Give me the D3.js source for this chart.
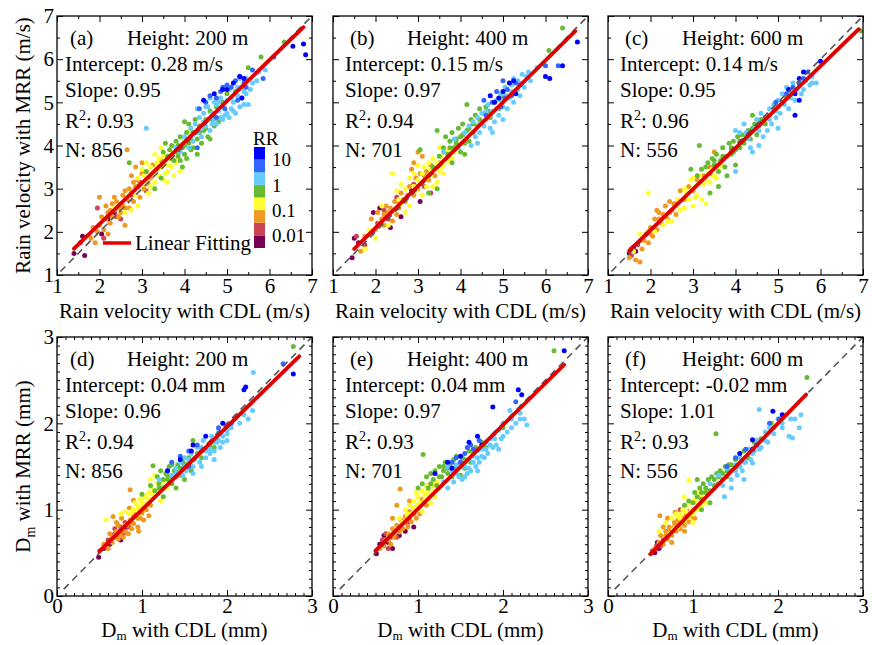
<!DOCTYPE html>
<html><head><meta charset="utf-8">
<script src="https://cdn.jsdelivr.net/npm/d3@7"></script>
<style>
body{margin:0;background:#fff}
svg{display:block}
text{font-family:"Liberation Serif","Times New Roman",serif;fill:#000}
</style>
</head><body>
<svg id="chart" width="872" height="645"></svg>
<script>
// ---------------- DATA ----------------
const panelLabels = ['(a)','(b)','(c)','(d)','(e)','(f)'];
const heights = [200,400,600,200,400,600];
const intercepts = [0.28,0.15,0.14,0.04,0.04,-0.02];
const slopes = [0.95,0.97,0.95,0.96,0.97,1.01];
const r2s = [0.93,0.94,0.96,0.94,0.93,0.93];
const counts = [856,701,556,856,701,556];
const fitRanges = [[1.4,6.8],[1.5,6.7],[1.5,6.9],[0.5,2.85],[0.5,2.72],[0.5,2.33]];
const units = ['m/s','m/s','m/s','mm','mm','mm'];

const velTicks = [1,2,3,4,5,6,7];
const velMinor = [1.5,2.5,3.5,4.5,5.5,6.5];
const dmTicks = [0,1,2,3];
const dmMinor = [0.1,0.2,0.3,0.4,0.5,0.6,0.7,0.8,0.9,1.1,1.2,1.3,1.4,1.5,1.6,1.7,1.8,1.9,2.1,2.2,2.3,2.4,2.5,2.6,2.7,2.8,2.9];

// colour bar (RR, mm/h)
const rrEdges = [0.00316,0.01,0.0316,0.1,0.316,1,3.16,10,31.6];
const rrColors = ['#770055','#cc4455','#ee9922','#ffff33','#66bb33','#66ccff','#3366ff','#0000ff'];
const rrTicks = [0.01,0.1,1,10];
const rrTickLabels = ['0.01','0.1','1','10'];

// points: [CDL, MRR, RR]
const ptsA = [
[1.4,1.5,0.005],[1.65,1.45,0.005],[1.6,1.9,0.005],[2.05,1.95,0.005],[2.2,2.3,0.005],[2.35,2.45,0.005],
[1.55,1.75,0.02],[1.95,2.55,0.02],[2.1,1.85,0.02],[2.4,2.35,0.02],[2.5,2.3,0.02],[2.75,2.85,0.02],[2.9,3.05,0.02],[2.95,3.15,0.02],[3.1,2.95,0.02],
[1.8,1.85,0.05],[1.9,1.75,0.05],[2.0,2.15,0.05],[2.1,2.05,0.05],[2.15,2.6,0.05],[2.2,2.45,0.05],[2.25,2.2,0.05],[2.3,2.65,0.05],[2.3,2.35,0.05],[2.4,2.7,0.05],[2.45,2.55,0.05],[2.5,2.45,0.05],[2.55,2.6,0.05],[2.55,2.85,0.05],[2.6,2.15,0.05],[2.65,3.9,0.05],[2.65,2.75,0.05],[2.7,2.55,0.05],[2.7,3.0,0.05],[2.75,3.3,0.05],[2.8,2.7,0.05],[2.85,3.05,0.05],[2.9,3.2,0.05],[2.95,2.8,0.05],[3.0,3.35,0.05],[3.05,3.0,0.05],[3.1,3.4,0.05],[3.2,3.25,0.05],[3.25,3.55,0.05],[3.35,3.45,0.05],[3.45,3.65,0.05],[1.95,2.0,0.05],[2.05,2.35,0.05],[2.35,2.5,0.05],[2.6,2.95,0.05],[2.0,2.8,0.05],[2.2,1.95,0.05],[3.0,3.6,0.05],[2.85,3.5,0.05],
[2.15,2.3,0.05],[2.35,2.8,0.05],[2.45,2.35,0.05],[2.5,2.65,0.05],[2.6,2.55,0.05],[2.75,2.9,0.05],[2.8,3.15,0.05],[3.15,3.1,0.05],[1.85,2.1,0.05],[2.25,2.5,0.05],
[2.35,2.55,0.2],[2.6,2.45,0.2],[2.75,2.5,0.2],[2.85,2.85,0.2],[2.9,3.25,0.2],[3.0,3.1,0.2],[3.1,3.2,0.2],[3.15,2.9,0.2],[3.2,3.05,0.2],[3.25,3.35,0.2],[3.3,3.15,0.2],[3.35,3.6,0.2],[3.4,3.3,0.2],[3.45,3.5,0.2],[3.5,3.2,0.2],[3.55,3.55,0.2],[3.6,3.4,0.2],[3.65,3.7,0.2],[3.7,3.5,0.2],[3.75,3.85,0.2],[3.8,3.6,0.2],[3.85,3.95,0.2],[3.9,3.4,0.2],[4.0,4.1,0.2],[3.3,3.8,0.2],[3.5,3.75,0.2],[3.45,3.95,0.2],[3.0,3.45,0.2],[2.9,2.6,0.2],[3.1,3.6,0.2],[3.6,3.15,0.2],[3.75,3.3,0.2],[4.1,4.35,0.2],
[3.2,3.5,0.2],[3.4,3.7,0.2],[3.55,3.35,0.2],[3.7,3.8,0.2],[3.85,3.7,0.2],[3.95,4.0,0.2],[3.05,3.3,0.2],[3.65,3.55,0.2],
[2.7,3.6,0.5],[3.1,3.4,0.5],[3.3,3.0,0.5],[3.5,3.85,0.5],[3.55,4.05,0.5],[3.6,3.75,0.5],[3.7,4.0,0.5],[3.75,3.65,0.5],[3.8,4.1,0.5],[3.85,3.75,0.5],[3.9,4.2,0.5],[3.95,3.5,0.5],[3.95,3.95,0.5],[4.0,3.8,0.5],[4.05,4.3,0.5],[4.1,4.05,0.5],[4.1,4.5,0.5],[4.15,3.9,0.5],[4.2,4.3,0.5],[4.25,4.6,0.5],[4.3,4.15,0.5],[4.35,4.45,0.5],[4.4,4.05,0.5],[4.45,4.35,0.5],[4.5,4.6,0.5],[4.55,4.2,0.5],[4.6,4.8,0.5],[4.7,4.45,0.5],[4.75,4.9,0.5],[4.8,4.55,0.5],[4.9,5.0,0.5],[5.0,5.2,0.5],[5.2,5.25,0.5],[5.5,5.8,0.5],[5.8,6.05,0.5],[6.35,6.4,0.5],[3.45,3.25,0.5],[4.0,4.55,0.5],[4.3,3.8,0.5],[3.9,3.65,0.5],[4.6,4.15,0.5],
[3.65,3.9,0.5],[3.85,4.0,0.5],[4.0,4.0,0.5],[4.15,4.2,0.5],[4.2,3.95,0.5],[4.35,4.3,0.5],[4.5,4.4,0.5],[4.65,4.6,0.5],[3.8,3.85,0.5],[4.05,3.7,0.5],
[3.1,4.4,2],[3.8,3.95,2],[3.9,3.85,2],[4.0,4.2,2],[4.1,3.95,2],[4.15,4.4,2],[4.2,4.1,2],[4.25,4.5,2],[4.3,4.3,2],[4.35,4.65,2],[4.4,4.4,2],[4.45,4.75,2],[4.5,4.45,2],[4.5,4.9,2],[4.55,4.6,2],[4.6,4.35,2],[4.65,4.75,2],[4.7,5.0,2],[4.7,4.6,2],[4.75,4.5,2],[4.8,4.8,2],[4.85,5.1,2],[4.85,4.65,2],[4.9,4.9,2],[4.95,4.7,2],[5.0,5.05,2],[5.0,4.75,2],[5.05,5.3,2],[5.1,4.85,2],[5.15,5.0,2],[5.2,4.75,2],[5.2,5.2,2],[5.25,5.35,2],[5.3,4.9,2],[5.35,5.1,2],[5.4,5.25,2],[5.45,5.55,2],[5.5,4.95,2],[5.55,5.3,2],[5.7,5.5,2],[5.75,5.7,2],[5.9,5.75,2],[4.3,4.85,2],[4.6,5.1,2],[4.95,5.35,2],[5.3,5.55,2],[4.4,4.2,2],[5.05,4.65,2],
[4.2,4.25,2],[4.45,4.55,2],[4.55,4.9,2],[4.65,4.5,2],[4.8,5.0,2],[4.9,4.6,2],[5.1,5.1,2],[5.15,4.8,2],[5.25,5.15,2],[5.4,4.95,2],[5.45,5.2,2],[5.6,5.45,2],[4.75,4.95,2],[5.35,5.35,2],
[4.35,4.85,5],[4.5,5.0,5],[4.6,5.15,5],[4.75,5.1,5],[4.85,5.25,5],[4.9,5.35,5],[5.0,5.4,5],[5.1,5.35,5],[5.2,5.5,5],[5.3,5.6,5],[5.4,5.45,5],[5.45,5.35,5],[5.6,5.75,5],[5.85,5.55,5],[6.1,6.05,5],[4.75,4.65,5],[5.25,5.05,5],[4.95,4.85,5],[4.3,3.95,5],
[4.7,5.2,15],[4.9,5.3,15],[5.0,5.3,15],[5.15,5.45,15],[5.3,5.6,15],[5.4,5.55,15],[6.55,6.3,15],[6.8,6.35,15],[6.85,6.1,15],[4.45,5.05,15],[5.35,5.1,15]
];

const ptsB = [
[1.45,1.4,0.005],[1.5,1.85,0.005],[1.95,2.45,0.005],[2.1,2.55,0.005],[2.35,2.1,0.005],[2.6,2.35,0.005],[2.85,2.95,0.005],[3.05,2.7,0.005],[1.6,1.75,0.005],
[1.55,1.9,0.02],[1.75,1.7,0.02],[2.05,2.2,0.02],[2.2,2.5,0.02],[2.3,2.3,0.02],[2.5,2.8,0.02],[2.9,3.1,0.02],[3.15,3.05,0.02],[3.3,2.9,0.02],[1.9,2.0,0.02],
[1.65,1.55,0.05],[1.75,1.9,0.05],[1.9,2.3,0.05],[2.0,2.05,0.05],[2.05,2.45,0.05],[2.15,2.3,0.05],[2.2,2.15,0.05],[2.25,2.6,0.05],[2.3,2.45,0.05],[2.4,2.25,0.05],[2.45,2.7,0.05],[2.55,2.55,0.05],[2.6,2.9,0.05],[2.7,2.7,0.05],[2.8,3.05,0.05],[2.85,3.45,0.05],[2.9,2.85,0.05],[2.95,3.25,0.05],[3.0,3.0,0.05],[3.0,3.85,0.05],[3.05,3.35,0.05],[3.1,3.15,0.05],[3.2,3.4,0.05],[3.25,3.2,0.05],[3.3,3.55,0.05],[3.4,3.3,0.05],[2.9,3.6,0.05],[3.1,3.75,0.05],[2.5,2.4,0.05],[3.5,3.6,0.05],
[2.1,2.2,0.05],[2.35,2.55,0.05],[2.65,2.75,0.05],[2.75,2.85,0.05],[2.95,3.05,0.05],[3.15,3.3,0.05],[2.2,2.4,0.05],[2.55,2.7,0.05],
[1.75,1.6,0.2],[1.85,2.05,0.2],[2.0,1.85,0.2],[2.15,2.6,0.2],[2.3,2.15,0.2],[2.4,3.35,0.2],[2.5,2.95,0.2],[2.6,3.1,0.2],[2.7,2.45,0.2],[2.7,3.0,0.2],[2.8,2.6,0.2],[2.8,3.25,0.2],[2.9,3.35,0.2],[3.0,3.2,0.2],[3.1,2.85,0.2],[3.15,3.5,0.2],[3.2,3.05,0.2],[3.25,3.6,0.2],[3.3,3.3,0.2],[3.35,3.7,0.2],[3.4,3.5,0.2],[3.45,3.15,0.2],[3.5,3.4,0.2],[3.55,3.75,0.2],[3.6,3.55,0.2],[3.65,3.85,0.2],[3.7,3.65,0.2],[3.75,3.9,0.2],[3.8,3.7,0.2],[3.9,4.0,0.2],[3.5,3.95,0.2],[3.0,3.55,0.2],[2.6,2.65,0.2],[3.35,3.05,0.2],[3.6,3.35,0.2],
[2.9,3.05,0.2],[3.1,3.35,0.2],[3.2,3.25,0.2],[3.3,3.45,0.2],[3.45,3.6,0.2],[3.55,3.5,0.2],[3.7,3.85,0.2],[2.55,2.75,0.2],[2.95,2.95,0.2],[3.85,3.85,0.2],
[3.05,3.9,0.5],[3.35,3.5,0.5],[3.45,4.35,0.5],[3.5,3.75,0.5],[3.6,3.95,0.5],[3.65,4.2,0.5],[3.7,3.8,0.5],[3.75,4.1,0.5],[3.8,4.3,0.5],[3.85,3.95,0.5],[3.9,4.15,0.5],[3.95,4.4,0.5],[4.0,3.85,0.5],[4.0,4.2,0.5],[4.05,4.5,0.5],[4.1,4.05,0.5],[4.15,4.95,0.5],[4.15,4.35,0.5],[4.2,4.1,0.5],[4.25,4.6,0.5],[4.3,4.3,0.5],[4.35,4.7,0.5],[4.4,4.45,0.5],[4.45,4.85,0.5],[4.5,4.55,0.5],[4.6,4.9,0.5],[4.7,4.65,0.5],[4.8,5.0,0.5],[4.9,4.85,0.5],[5.0,5.1,0.5],[6.08,6.2,0.5],[6.4,6.72,0.5],[3.25,2.9,0.5],[3.45,3.0,0.5],[4.1,3.8,0.5],[3.8,3.6,0.5],
[3.9,4.05,0.5],[4.05,4.25,0.5],[4.2,4.4,0.5],[4.3,4.5,0.5],[4.45,4.6,0.5],[4.55,4.75,0.5],[3.75,3.95,0.5],[4.65,4.8,0.5],
[3.6,3.85,2],[3.85,4.15,2],[3.95,3.95,2],[4.1,4.3,2],[4.2,4.45,2],[4.25,4.0,2],[4.3,4.55,2],[4.35,4.2,2],[4.4,4.65,2],[4.45,4.3,2],[4.5,4.75,2],[4.55,4.45,2],[4.6,4.6,2],[4.65,4.95,2],[4.7,4.4,2],[4.75,4.8,2],[4.8,4.55,2],[4.85,5.05,2],[4.9,4.7,2],[4.95,5.2,2],[5.0,4.9,2],[5.05,5.35,2],[5.1,4.85,2],[5.15,5.1,2],[5.2,5.4,2],[5.25,5.0,2],[5.3,5.25,2],[5.35,5.5,2],[5.4,5.15,2],[5.5,5.35,2],[5.55,5.6,2],[5.6,5.7,2],[5.8,5.8,2],[5.45,5.45,2],[4.4,4.05,2],[4.75,4.3,2],[5.0,4.6,2],
[4.45,4.5,2],[4.6,4.8,2],[4.7,4.7,2],[4.85,4.85,2],[4.95,5.05,2],[5.1,5.15,2],[5.2,5.25,2],[5.35,5.3,2],[5.45,5.65,2],[5.25,5.55,2],[5.65,5.5,2],[5.0,5.2,2],
[4.6,4.7,5],[4.75,5.0,5],[4.85,5.25,5],[4.95,4.9,5],[5.05,5.1,5],[5.1,5.3,5],[5.2,5.15,5],[5.3,5.45,5],[5.4,5.4,5],[5.0,5.5,5],[4.55,5.05,5],[6.0,5.85,5],[6.3,5.85,5],
[4.7,5.15,15],[4.8,5.0,15],[4.9,5.1,15],[5.0,5.25,15],[5.15,5.45,15],[5.25,5.5,15],[5.3,5.2,15],[6.0,5.6,15],[6.1,5.55,15],[6.75,6.4,15],[6.4,5.85,15]
];

const ptsC = [
[1.5,1.5,0.005],[1.6,1.65,0.005],[1.65,1.55,0.005],
[1.55,1.6,0.02],[1.7,1.7,0.02],[1.55,1.45,0.02],
[1.5,1.4,0.05],[1.65,1.35,0.05],[1.75,1.3,0.05],[1.8,1.6,0.05],[1.9,1.95,0.05],[1.95,1.75,0.05],[2.0,2.1,0.05],[2.05,1.9,0.05],[2.1,2.3,0.05],[2.15,2.05,0.05],[2.2,2.45,0.05],[2.25,2.2,0.05],[2.3,2.4,0.05],[2.35,2.6,0.05],[2.4,2.3,0.05],[2.5,2.5,0.05],[2.55,2.65,0.05],[2.6,2.4,0.05],[2.7,2.95,0.05],[2.8,2.75,0.05],[2.9,3.05,0.05],[3.0,2.95,0.05],[3.1,3.2,0.05],[3.25,3.3,0.05],[3.4,3.5,0.05],[2.45,2.7,0.05],[1.85,1.8,0.05],[2.15,2.5,0.05],[3.5,3.85,0.05],
[2.0,1.95,0.05],[2.2,2.3,0.05],[2.35,2.35,0.05],[2.65,2.7,0.05],[1.95,2.0,0.05],[2.45,2.45,0.05],
[1.6,1.55,0.2],[1.75,1.95,0.2],[1.95,2.9,0.2],[2.1,2.0,0.2],[2.3,2.15,0.2],[2.5,2.25,0.2],[2.6,2.6,0.2],[2.7,2.5,0.2],[2.8,2.55,0.2],[2.8,3.0,0.2],[2.9,2.75,0.2],[2.95,3.2,0.2],[3.0,2.6,0.2],[3.05,3.05,0.2],[3.1,2.85,0.2],[3.15,3.3,0.2],[3.2,2.75,0.2],[3.25,3.1,0.2],[3.3,2.65,0.2],[3.35,3.35,0.2],[3.4,3.15,0.2],[3.45,3.45,0.2],[3.5,3.3,0.2],[3.6,3.5,0.2],[3.7,3.7,0.2],[3.0,3.25,0.2],[2.4,2.25,0.2],[3.55,3.25,0.2],
[2.85,2.9,0.2],[3.05,2.8,0.2],[3.2,3.15,0.2],[3.3,3.2,0.2],[3.45,3.3,0.2],[2.65,2.75,0.2],[3.65,3.55,0.2],
[2.95,3.45,0.5],[3.1,3.3,0.5],[3.15,4.0,0.5],[3.2,3.45,0.5],[3.3,3.5,0.5],[3.4,3.35,0.5],[3.45,3.7,0.5],[3.5,3.55,0.5],[3.55,3.8,0.5],[3.6,3.4,0.5],[3.65,3.65,0.5],[3.7,3.95,0.5],[3.75,3.5,0.5],[3.8,3.75,0.5],[3.85,4.05,0.5],[3.9,3.8,0.5],[3.95,4.1,0.5],[4.0,3.9,0.5],[4.05,4.2,0.5],[4.1,3.95,0.5],[4.15,4.25,0.5],[4.2,4.05,0.5],[4.3,4.35,0.5],[4.35,4.15,0.5],[4.45,4.5,0.5],[4.5,4.25,0.5],[4.6,4.6,0.5],[4.7,4.5,0.5],[4.8,4.7,0.5],[4.9,4.85,0.5],[5.0,4.9,0.5],[5.2,5.1,0.5],[3.4,2.9,0.5],[3.6,3.05,0.5],[3.8,3.3,0.5],[4.0,3.55,0.5],[6.95,6.65,0.5],[4.4,4.7,0.5],
[3.5,3.65,0.5],[3.7,3.75,0.5],[3.9,3.95,0.5],[4.1,4.1,0.5],[4.25,4.2,0.5],[4.4,4.4,0.5],[4.55,4.45,0.5],[4.75,4.65,0.5],[3.35,3.6,0.5],[3.95,3.85,0.5],
[4.0,4.35,2],[4.1,4.3,2],[4.2,4.5,2],[4.3,4.15,2],[4.4,3.85,2],[4.45,4.4,2],[4.5,4.6,2],[4.55,4.35,2],[4.6,4.75,2],[4.65,4.2,2],[4.7,4.65,2],[4.75,4.35,2],[4.8,4.85,2],[4.85,4.5,2],[4.9,4.95,2],[4.95,4.65,2],[5.0,5.05,2],[5.05,4.75,2],[5.1,5.2,2],[5.15,4.95,2],[5.2,5.35,2],[5.25,4.85,2],[5.3,5.25,2],[5.35,5.45,2],[5.4,5.05,2],[5.5,5.4,2],[5.55,5.2,2],[5.65,5.5,2],[5.75,5.4,2],[5.9,5.45,2],[5.8,5.6,2],[4.0,3.4,2],[4.35,3.95,2],[4.55,4.0,2],[5.0,4.4,2],
[4.6,4.5,2],[4.8,4.6,2],[4.95,4.8,2],[5.1,5.0,2],[5.3,5.1,2],[5.45,5.3,2],[5.6,5.3,2],[4.25,4.3,2],[5.8,5.45,2],
[5.1,5.0,5],[5.2,5.2,5],[5.35,5.35,5],[5.5,5.45,5],[5.6,5.55,5],[4.95,5.0,5],[5.7,5.7,5],
[5.25,5.3,15],[5.4,5.2,15],[5.5,5.55,15],[5.5,5.05,15],[5.4,4.7,15],[6.0,5.95,15],[5.6,5.7,15]
];

const ptsD = [
[0.49,0.45,0.005],[0.55,0.55,0.005],[0.7,0.72,0.005],[0.75,0.65,0.005],[0.8,0.78,0.005],[0.62,0.6,0.005],
[0.6,0.65,0.02],[0.65,0.7,0.02],[0.68,0.78,0.02],[0.72,0.75,0.02],[0.75,0.8,0.02],[0.78,0.72,0.02],[0.8,0.85,0.02],[0.85,0.8,0.02],[0.7,0.68,0.02],[0.58,0.6,0.02],
[0.74,0.72,0.02],[0.77,0.78,0.02],[0.68,0.72,0.02],
[0.5,0.52,0.05],[0.55,0.6,0.05],[0.6,0.55,0.05],[0.62,0.72,0.05],[0.65,0.62,0.05],[0.68,0.7,0.05],[0.7,0.85,0.05],[0.72,0.66,0.05],[0.74,0.74,0.05],[0.76,0.9,0.05],[0.78,0.68,0.05],[0.8,0.75,0.05],[0.82,0.82,0.05],[0.84,0.72,0.05],[0.86,0.88,0.05],[0.88,0.78,0.05],[0.9,0.84,0.05],[0.92,0.95,0.05],[0.95,0.8,0.05],[0.98,0.9,0.05],[1.0,0.96,0.05],[1.02,0.88,0.05],[1.05,1.0,0.05],[1.08,0.93,0.05],[1.1,1.05,0.05],[0.86,1.23,0.05],[0.9,1.11,0.05],[0.66,0.92,0.05],[0.85,1.02,0.05],[0.96,0.75,0.05],
[0.7,0.75,0.05],[0.75,0.7,0.05],[0.8,0.82,0.05],[0.85,0.84,0.05],[0.9,0.92,0.05],[0.95,0.9,0.05],[0.65,0.68,0.05],[0.72,0.82,0.05],
[0.58,0.88,0.2],[0.75,0.95,0.2],[0.8,0.98,0.2],[0.85,0.95,0.2],[0.9,1.0,0.2],[0.92,1.08,0.2],[0.95,0.95,0.2],[0.98,1.12,0.2],[1.0,1.02,0.2],[1.02,1.15,0.2],[1.05,1.08,0.2],[1.08,1.2,0.2],[1.1,1.12,0.2],[1.12,1.25,0.2],[1.15,1.15,0.2],[1.18,1.3,0.2],[1.2,1.2,0.2],[1.22,1.1,0.2],[1.25,1.32,0.2],[1.3,1.25,0.2],[1.1,1.35,0.2],[1.15,1.4,0.2],[0.95,1.05,0.2],
[0.95,1.0,0.2],[1.0,1.08,0.2],[1.05,1.15,0.2],[1.12,1.18,0.2],[1.18,1.22,0.2],[0.88,0.98,0.2],[1.25,1.25,0.2],
[1.13,1.51,0.5],[1.0,1.18,0.5],[1.1,1.28,0.5],[1.15,1.22,0.5],[1.18,1.38,0.5],[1.2,1.3,0.5],[1.22,1.45,0.5],[1.25,1.25,0.5],[1.28,1.42,0.5],[1.3,1.35,0.5],[1.32,1.5,0.5],[1.35,1.3,0.5],[1.38,1.45,0.5],[1.4,1.38,0.5],[1.42,1.52,0.5],[1.45,1.4,0.5],[1.48,1.55,0.5],[1.5,1.35,0.5],[1.52,1.48,0.5],[1.55,1.6,0.5],[1.58,1.45,0.5],[1.6,1.8,0.5],[1.65,1.65,0.5],[1.7,1.6,0.5],[1.75,1.7,0.5],[1.8,1.75,0.5],[2.78,2.89,0.5],[1.25,1.15,0.5],[1.4,1.25,0.5],[1.35,1.52,0.5],[1.85,1.72,0.5],
[1.2,1.25,0.5],[1.3,1.4,0.5],[1.35,1.38,0.5],[1.4,1.45,0.5],[1.45,1.48,0.5],[1.5,1.52,0.5],[1.25,1.35,0.5],[1.55,1.55,0.5],
[1.2,1.35,2],[1.3,1.45,2],[1.35,1.4,2],[1.4,1.48,2],[1.45,1.55,2],[1.48,1.4,2],[1.5,1.6,2],[1.52,1.45,2],[1.55,1.52,2],[1.58,1.65,2],[1.6,1.5,2],[1.62,1.58,2],[1.65,1.72,2],[1.68,1.55,2],[1.7,1.68,2],[1.72,1.8,2],[1.75,1.6,2],[1.78,1.75,2],[1.8,1.65,2],[1.82,1.85,2],[1.85,1.68,2],[1.88,1.78,2],[1.9,1.9,2],[1.92,1.72,2],[1.95,1.85,2],[1.98,1.98,2],[2.0,1.8,2],[2.05,1.95,2],[2.1,2.05,2],[2.15,2.0,2],[2.2,2.1,2],[2.25,2.05,2],[2.3,2.15,2],[2.31,2.59,2],[1.85,1.58,2],[1.7,1.5,2],[2.0,1.92,2],[1.6,1.42,2],
[1.4,1.42,2],[1.5,1.5,2],[1.55,1.58,2],[1.65,1.62,2],[1.7,1.72,2],[1.75,1.68,2],[1.8,1.7,2],[1.9,1.8,2],[1.95,1.78,2],[2.0,1.88,2],[1.85,1.78,2],
[1.35,1.55,5],[1.45,1.62,5],[1.55,1.68,5],[1.65,1.75,5],[1.9,1.95,5],[2.05,2.0,5],[2.66,2.69,5],[1.55,1.5,5],
[1.3,1.45,15],[1.45,1.58,15],[1.6,1.75,15],[1.58,1.68,15],[1.75,1.85,15],[2.22,2.42,15],[2.2,2.39,15],[2.78,2.57,15],[1.95,2.0,15]
];

const ptsE = [
[0.51,0.49,0.005],[0.55,0.6,0.005],[0.65,0.62,0.005],[0.7,0.55,0.005],[0.78,0.7,0.005],[0.85,0.75,0.005],[0.6,0.7,0.005],[0.95,0.8,0.005],
[0.58,0.65,0.02],[0.62,0.72,0.02],[0.68,0.68,0.02],[0.72,0.75,0.02],[0.75,0.68,0.02],[0.8,0.78,0.02],[0.88,0.85,0.02],[0.65,0.55,0.02],
[0.55,0.55,0.05],[0.6,0.58,0.05],[0.62,0.65,0.05],[0.65,0.72,0.05],[0.68,0.6,0.05],[0.7,0.78,0.05],[0.72,0.68,0.05],[0.75,0.82,0.05],[0.78,0.74,0.05],[0.8,0.88,0.05],[0.82,0.78,0.05],[0.85,0.92,0.05],[0.88,0.8,0.05],[0.9,0.98,0.05],[0.92,0.86,0.05],[0.95,1.02,0.05],[0.98,0.9,0.05],[1.0,1.05,0.05],[1.02,0.95,0.05],[1.05,1.12,0.05],[0.79,1.24,0.05],[0.75,1.05,0.05],[0.9,1.1,0.05],[0.7,0.9,0.05],[1.1,1.05,0.05],
[0.65,0.65,0.05],[0.72,0.72,0.05],[0.8,0.8,0.05],[0.85,0.85,0.05],[0.9,0.9,0.05],[0.95,0.95,0.05],
[0.7,0.72,0.2],[0.78,0.9,0.2],[0.82,0.85,0.2],[0.85,1.0,0.2],[0.88,0.92,0.2],[0.9,1.05,0.2],[0.92,0.95,0.2],[0.95,1.1,0.2],[0.98,1.0,0.2],[1.0,1.15,0.2],[1.02,1.08,0.2],[1.05,1.22,0.2],[1.08,1.12,0.2],[1.1,1.28,0.2],[1.12,1.18,0.2],[1.15,1.3,0.2],[1.18,1.22,0.2],[1.2,1.15,0.2],[1.22,1.32,0.2],[1.25,1.25,0.2],[0.98,1.2,0.2],[1.05,0.98,0.2],[1.15,1.08,0.2],
[0.88,0.95,0.2],[0.95,1.02,0.2],[1.0,1.05,0.2],[1.08,1.18,0.2],[1.12,1.22,0.2],[1.18,1.28,0.2],
[1.06,1.64,0.5],[1.0,1.25,0.5],[1.05,1.3,0.5],[1.1,1.38,0.5],[1.15,1.42,0.5],[1.18,1.35,0.5],[1.2,1.45,0.5],[1.22,1.28,0.5],[1.25,1.5,0.5],[1.28,1.38,0.5],[1.3,1.45,0.5],[1.32,1.55,0.5],[1.35,1.42,0.5],[1.38,1.5,0.5],[1.4,1.38,0.5],[1.42,1.58,0.5],[1.45,1.45,0.5],[1.48,1.52,0.5],[1.5,1.4,0.5],[1.52,1.6,0.5],[1.55,1.48,0.5],[1.6,1.68,0.5],[1.62,1.55,0.5],[1.68,1.72,0.5],[1.75,1.78,0.5],[1.8,1.72,0.5],[2.0,1.95,0.5],[2.6,2.84,0.5],[1.45,1.62,0.5],[1.12,1.25,0.5],
[1.15,1.3,0.5],[1.25,1.38,0.5],[1.35,1.48,0.5],[1.45,1.5,0.5],[1.55,1.58,0.5],[1.65,1.65,0.5],[1.3,1.5,0.5],
[1.3,1.32,2],[1.35,1.5,2],[1.4,1.45,2],[1.42,1.32,2],[1.45,1.52,2],[1.48,1.38,2],[1.5,1.5,2],[1.52,1.35,2],[1.55,1.55,2],[1.58,1.42,2],[1.6,1.58,2],[1.62,1.45,2],[1.65,1.62,2],[1.68,1.5,2],[1.7,1.68,2],[1.72,1.55,2],[1.75,1.7,2],[1.78,1.6,2],[1.8,1.78,2],[1.82,1.65,2],[1.85,1.82,2],[1.88,1.72,2],[1.9,1.88,2],[1.92,1.75,2],[1.95,1.92,2],[1.98,1.82,2],[2.0,2.0,2],[2.05,1.9,2],[2.1,2.05,2],[2.15,2.0,2],[2.2,2.12,2],[2.25,2.05,2],[2.28,1.98,2],[2.22,2.2,2],[1.7,1.45,2],[1.55,1.38,2],[1.35,1.25,2],[2.08,2.15,2],[1.95,1.7,2],
[1.45,1.42,2],[1.55,1.5,2],[1.6,1.48,2],[1.65,1.55,2],[1.75,1.62,2],[1.8,1.7,2],[1.85,1.75,2],[1.9,1.82,2],[2.0,1.85,2],[2.1,1.95,2],[2.2,2.05,2],[1.7,1.6,2],
[1.45,1.6,5],[1.55,1.65,5],[1.65,1.7,5],[1.72,1.8,5],[1.62,1.75,5],[1.5,1.55,5],[2.15,2.25,5],[1.4,1.55,5],[1.58,1.72,5],
[1.2,1.42,15],[1.35,1.55,15],[1.5,1.62,15],[1.6,1.78,15],[1.7,1.85,15],[1.75,1.75,15],[1.88,2.19,15],[2.18,2.39,15],[2.22,2.33,15],[2.72,2.84,15],[1.4,1.48,15]
];

const ptsF = [
[0.55,0.5,0.005],[0.6,0.55,0.005],[0.58,0.62,0.005],
[0.52,0.52,0.02],[0.62,0.58,0.02],[0.65,0.65,0.02],[0.57,0.58,0.02],[0.7,0.75,0.02],[0.85,1.0,0.02],[0.95,0.98,0.02],
[0.55,0.55,0.05],[0.6,0.62,0.05],[0.61,0.93,0.05],[0.62,0.7,0.05],[0.65,0.6,0.05],[0.68,0.75,0.05],[0.7,0.66,0.05],[0.72,0.8,0.05],[0.75,0.7,0.05],[0.78,0.85,0.05],[0.79,0.97,0.05],[0.8,0.75,0.05],[0.82,0.88,0.05],[0.85,0.78,0.05],[0.88,0.9,0.05],[0.9,0.82,0.05],[0.92,0.95,0.05],[0.95,0.86,0.05],[0.98,0.92,0.05],[1.0,1.0,0.05],[0.7,0.9,0.05],[0.65,0.8,0.05],[0.75,0.62,0.05],[0.9,0.75,0.05],[1.02,0.9,0.05],
[0.68,0.7,0.05],[0.72,0.75,0.05],[0.78,0.8,0.05],[0.82,0.82,0.05],[0.85,0.85,0.05],[0.88,0.85,0.05],
[0.6,0.75,0.2],[0.68,0.85,0.2],[0.72,0.72,0.2],[0.75,0.9,0.2],[0.78,0.78,0.2],[0.8,0.95,0.2],[0.82,0.8,0.2],[0.85,0.9,0.2],[0.88,1.0,0.2],[0.9,0.88,0.2],[0.92,1.05,0.2],[0.95,0.92,0.2],[0.95,1.34,0.2],[0.98,1.08,0.2],[1.0,0.95,0.2],[1.02,1.12,0.2],[1.05,1.0,0.2],[1.08,1.15,0.2],[1.1,1.05,0.2],[1.12,1.2,0.2],[1.15,1.08,0.2],[0.9,1.15,0.2],[1.05,1.2,0.2],[1.0,0.85,0.2],
[0.85,0.95,0.2],[0.92,0.98,0.2],[0.98,1.0,0.2],[1.05,1.08,0.2],[1.1,1.15,0.2],[0.82,0.92,0.2],[1.15,1.22,0.2],
[0.9,1.05,0.5],[0.95,1.1,0.5],[1.0,1.08,0.5],[1.02,1.2,0.5],[1.05,1.15,0.5],[1.08,1.25,0.5],[1.1,1.12,0.5],[1.12,1.3,0.5],[1.15,1.2,0.5],[1.18,1.35,0.5],[1.2,1.22,0.5],[1.22,1.38,0.5],[1.25,1.28,0.5],[1.27,1.88,0.5],[1.28,1.42,0.5],[1.3,1.3,0.5],[1.32,1.45,0.5],[1.35,1.35,0.5],[1.38,1.5,0.5],[1.4,1.38,0.5],[1.42,1.52,0.5],[1.45,1.45,0.5],[1.5,1.58,0.5],[1.55,1.5,0.5],[1.6,1.68,0.5],[1.65,1.6,0.5],[1.72,1.78,0.5],[1.8,1.82,0.5],[1.92,2.0,0.5],[2.34,2.53,0.5],[1.1,1.0,0.5],[1.2,1.08,0.5],[1.05,1.35,0.5],
[1.1,1.2,0.5],[1.15,1.25,0.5],[1.25,1.35,0.5],[1.3,1.38,0.5],[1.35,1.42,0.5],[1.45,1.52,0.5],[1.5,1.48,0.5],[1.4,1.45,0.5],
[1.2,1.3,2],[1.3,1.4,2],[1.35,1.28,2],[1.37,1.15,2],[1.4,1.48,2],[1.45,1.35,2],[1.5,1.52,2],[1.52,1.4,2],[1.55,1.6,2],[1.58,1.45,2],[1.6,1.55,2],[1.65,1.7,2],[1.68,1.58,2],[1.7,1.54,2],[1.72,1.68,2],[1.75,1.8,2],[1.78,2.16,2],[1.8,1.72,2],[1.85,1.9,2],[1.88,1.78,2],[1.9,1.95,2],[1.95,1.88,2],[2.0,2.05,2],[2.05,1.95,2],[2.1,2.1,2],[2.13,1.85,2],[2.17,1.83,2],[2.2,2.05,2],[2.27,2.1,2],[2.25,1.95,2],[1.45,1.25,2],[1.6,1.35,2],
[1.5,1.45,2],[1.55,1.5,2],[1.62,1.55,2],[1.7,1.65,2],[1.78,1.7,2],[1.85,1.8,2],[1.95,1.95,2],[2.05,2.0,2],[2.15,2.05,2],
[1.5,1.6,5],[1.62,1.7,5],[1.75,1.75,5],[1.9,2.0,5],[2.01,2.05,5],[1.4,1.5,5],
[1.55,1.65,15],[1.7,1.81,15],[1.94,2.14,15],[2.05,2.1,15],[1.7,1.7,15]
];

const titlesX = ['Rain velocity with CDL (m/s)', ' with CDL (mm)'];
const titlesY = ['Rain velocity with MRR (m/s)', ' with MRR (mm)'];
const legendText = 'Linear Fitting';

// ---------------- DRAW ----------------
const svg = d3.select('#chart');
const colLeft = [57, 333, 608], rowTop = [16, 337];
const PW = 255, PH = 259;
const FS = 21;
const allPts = [ptsA, ptsB, ptsC, ptsD, ptsE, ptsF];
const color = d3.scaleThreshold().domain(rrEdges.slice(1, -1)).range(rrColors);

allPts.forEach((pts, i) => {
  const row = i < 3 ? 0 : 1, col = i % 3;
  const dom = row === 0 ? [1, 7] : [0, 3];
  const major = row === 0 ? velTicks : dmTicks;
  const minor = row === 0 ? velMinor : dmMinor;
  const x = d3.scaleLinear().domain(dom).range([0, PW]);
  const y = d3.scaleLinear().domain(dom).range([PH, 0]);
  const g = svg.append('g').attr('transform', `translate(${colLeft[col]},${rowTop[row]})`);

  // points (higher rain rate drawn on top)
  const sorted = pts.slice().sort((a, b) => a[2] - b[2]);
  g.append('g').selectAll('circle').data(sorted).join('circle')
    .attr('cx', d => x(d[0])).attr('cy', d => y(d[1])).attr('r', 2.5)
    .attr('fill', d => color(d[2]));

  // 1:1 line
  g.append('line').attr('x1', x(dom[0] + 0.08)).attr('y1', y(dom[0] + 0.08))
    .attr('x2', x(dom[1])).attr('y2', y(dom[1]))
    .attr('stroke', '#555').attr('stroke-width', 1.6).attr('stroke-dasharray', '7,5');

  // fit line
  const fr = fitRanges[i];
  g.append('line')
    .attr('x1', x(fr[0])).attr('y1', y(intercepts[i] + slopes[i] * fr[0]))
    .attr('x2', x(fr[1])).attr('y2', y(intercepts[i] + slopes[i] * fr[1]))
    .attr('stroke', '#e00000').attr('stroke-width', 3.8).attr('stroke-linecap', 'round');

  // axes
  const styleAxis = sel => {
    sel.select('.domain').remove();
    sel.selectAll('line').attr('stroke', '#000').attr('stroke-width', 1);
    sel.selectAll('text').attr('font-size', FS).attr('font-family', '"Liberation Serif","Times New Roman",serif').attr('fill', '#000');
  };
  g.append('g').attr('transform', `translate(0,${PH})`)
    .call(d3.axisBottom(x).tickValues(major).tickSize(-6).tickPadding(row === 0 ? 3 : 2).tickFormat(d3.format('d'))).call(styleAxis);
  g.append('g').attr('transform', `translate(0,${PH})`)
    .call(d3.axisBottom(x).tickValues(minor).tickSize(-3).tickFormat('')).call(styleAxis);
  g.append('g').call(d3.axisTop(x).tickValues(major).tickSize(-6).tickFormat('')).call(styleAxis);
  g.append('g').call(d3.axisTop(x).tickValues(minor).tickSize(-3).tickFormat('')).call(styleAxis);
  g.append('g')
    .call(d3.axisLeft(y).tickValues(major).tickSize(-6).tickPadding(3).tickFormat(col === 0 ? d3.format('d') : '')).call(styleAxis);
  g.append('g').call(d3.axisLeft(y).tickValues(minor).tickSize(-3).tickFormat('')).call(styleAxis);
  g.append('g').attr('transform', `translate(${PW},0)`)
    .call(d3.axisRight(y).tickValues(major).tickSize(-6).tickFormat('')).call(styleAxis);
  g.append('g').attr('transform', `translate(${PW},0)`)
    .call(d3.axisRight(y).tickValues(minor).tickSize(-3).tickFormat('')).call(styleAxis);

  g.append('rect').attr('width', PW).attr('height', PH)
    .attr('fill', 'none').attr('stroke', '#000').attr('stroke-width', 1.3);

  // annotations
  const tx = col === 0 ? 8 : 12;
  const ann = g.append('g').attr('font-size', FS);
  ann.append('text').attr('x', tx + 5).attr('y', 29).text(panelLabels[i]);
  ann.append('text').attr('x', tx + 62).attr('y', 29).text(`Height: ${heights[i]} m`);
  ann.append('text').attr('x', tx).attr('y', 55).text(`Intercept: ${intercepts[i].toFixed(2)} ${units[i]}`);
  ann.append('text').attr('x', tx).attr('y', 81).text(`Slope: ${slopes[i].toFixed(2)}`);
  const r2t = ann.append('text').attr('x', tx).attr('y', 112);
  r2t.append('tspan').text('R');
  r2t.append('tspan').attr('dy', -8).attr('font-size', 14).text('2');
  r2t.append('tspan').attr('dy', 8).text(`: ${r2s[i].toFixed(2)}`);
  ann.append('text').attr('x', tx).attr('y', 141).text(`N: ${counts[i]}`);

  // x title
  const xt = g.append('text').attr('x', PW / 2).attr('y', row === 0 ? PH + 43 : PH + 41)
    .attr('text-anchor', 'middle').attr('font-size', FS);
  if (row === 0) xt.text(titlesX[0]);
  else {
    xt.append('tspan').text('D');
    xt.append('tspan').attr('dy', 3).attr('font-size', 13).text('m');
    xt.append('tspan').attr('dy', -3).text(titlesX[1]);
  }
  // y title
  if (col === 0) {
    const yt = svg.append('text').attr('transform', `translate(30,${rowTop[row] + PH / 2}) rotate(-90)`)
      .attr('text-anchor', 'middle').attr('font-size', FS);
    if (row === 0) yt.text(titlesY[0]);
    else {
      yt.append('tspan').text('D');
      yt.append('tspan').attr('dy', 5).attr('font-size', 14).text('m');
      yt.append('tspan').attr('dy', -5).text(titlesY[1]);
    }
  }
});

// colour bar in panel (a)
const cb = d3.scaleLog().domain([rrEdges[0], rrEdges[rrEdges.length - 1]]).range([248, 147]);
const cbg = svg.append('g');
cbg.selectAll('rect').data(rrColors).join('rect')
  .attr('x', 254).attr('width', 11)
  .attr('y', (c, k) => cb(rrEdges[k + 1]))
  .attr('height', (c, k) => cb(rrEdges[k]) - cb(rrEdges[k + 1]))
  .attr('fill', c => c);
cbg.selectAll('text.lab').data(rrTicks).join('text').attr('class', 'lab')
  .attr('x', 272).attr('y', d => cb(d)).attr('dy', '0.35em').attr('font-size', 19)
  .text((d, k) => rrTickLabels[k]);
cbg.append('text').attr('x', 253).attr('y', 145).attr('font-size', 19).text('RR');

// legend
svg.append('line').attr('x1', 103).attr('x2', 131).attr('y1', 243).attr('y2', 243)
  .attr('stroke', '#e00000').attr('stroke-width', 3.5);
svg.append('text').attr('x', 135).attr('y', 250).attr('font-size', FS).text(legendText);
</script>
</body></html>
